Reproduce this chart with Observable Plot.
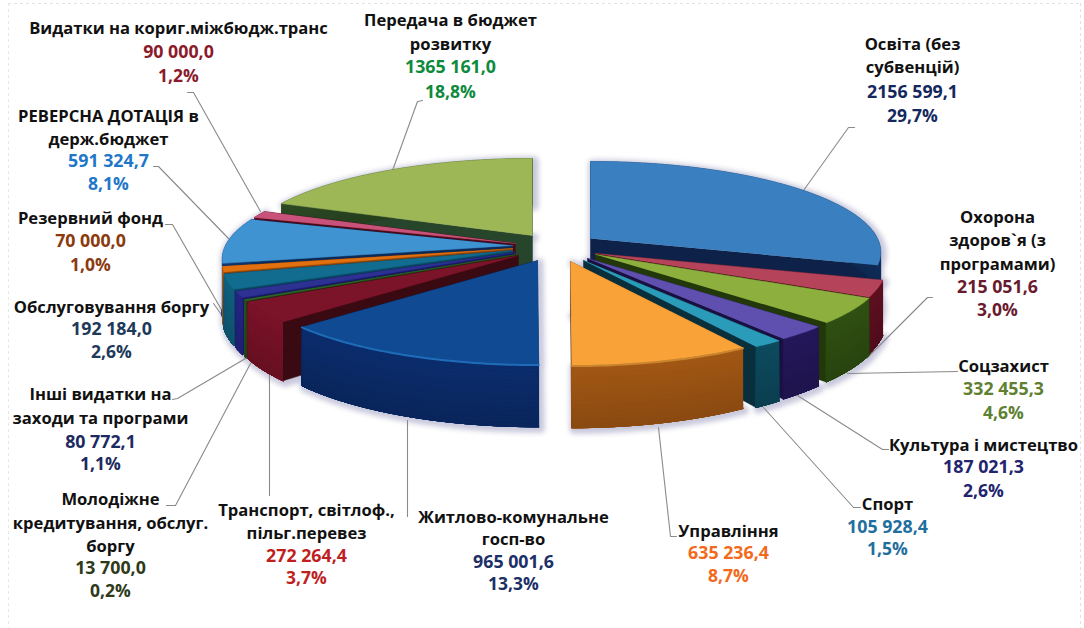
<!DOCTYPE html>
<html lang="uk">
<head>
<meta charset="utf-8">
<script src="https://cdn.jsdelivr.net/npm/d3@7"></script>
<script src="https://cdn.jsdelivr.net/npm/@observablehq/plot@0.6"></script>
<style>
html,body{margin:0;padding:0;background:#fff;overflow:hidden}
svg{display:block}
.shadow{filter:blur(2.5px)}
</style>
</head>
<body>
<div id="chart"></div>
<script>
// ---- data, in pie order (clockwise from 12 o'clock) ----
const categories = [
  ["Освіта (без","субвенцій)"],
  ["Охорона","здоров`я (з","програмами)"],
  ["Соцзахист"],
  ["Культура і мистецтво"],
  ["Спорт"],
  ["Управління"],
  ["Житлово-комунальне","госп-во"],
  ["Транспорт, світлоф.,","пільг.перевез"],
  ["Молодіжне","кредитування, обслуг.","боргу"],
  ["Інші видатки на","заходи та програми"],
  ["Обслуговування боргу"],
  ["Резервний фонд"],
  ["РЕВЕРСНА ДОТАЦІЯ в","держ.бюджет"],
  ["Видатки на кориг.міжбюдж.транс"],
  ["Передача в бюджет","розвитку"]
];
const values = [2156599.1,215051.6,332455.3,187021.3,105928.4,635236.4,965001.6,272264.4,13700.0,80772.1,192184.0,70000.0,591324.7,90000.0,1365161.0];
const valueLabels = ["2156 599,1","215 051,6","332 455,3","187 021,3","105 928,4","635 236,4","965 001,6","272 264,4","13 700,0","80 772,1","192 184,0","70 000,0","591 324,7","90 000,0","1365 161,0"];
const percentLabels = ["29,7%","3,0%","4,6%","2,6%","1,5%","8,7%","13,3%","3,7%","0,2%","1,1%","2,6%","1,0%","8,1%","1,2%","18,8%"];

// ---- styles ----
const topColors   = ["#3A80C0","#B5445A","#8DAF3E","#5F50B0","#2A9CBA","#F9A238","#0F4A92","#7B1329","#2F6A25","#2C3192","#116C90","#E2700F","#3E93D0","#C9527A","#9DB757"];
const wallColors  = ["#11305F","#5E0F20","#2F5012","#24175A","#0D4A5E","#A25714","#0B2C6C","#7A1228","#24541C","#232584","#105F7E","#B85A0E","#113A78","#5B0E22","#2C4A24"];
const sideColors  = ["#0E2148","#4A0A18","#22380B","#1A103F","#092F3C","#6E3A0B","#092459","#3A0A12","#1C3F14","#181A66","#0B4760","#8A440A","#0C2A58","#4A0A18","#27452A"];
const textColors  = ["#14285E","#6A1A2E","#5E8030","#22246E","#1F6F9E","#F26A1B","#1C2F66","#C01F1F","#2E3A1A","#1D2A5F","#1E3A5A","#8B3A0E","#1F77C9","#8B1A2B","#0E8A3C"];
const rimColors   = {5:"#C9852F", 6:"#1F6CB8"};

// ---- layout: where each exploded wedge's apex sits and where each label goes ----
const apexes = [[590,238],[595,253],[595,254],[587,258],[583,260],[570,261],[537,260],[518,255],[516,254],[514,252],[512,250],[512,248],[512,245],[515,243],[532,235]];
const labelX = [912,997,1003,983,887,728,513,306,110,100,111,90,108,178,450];
const labelY = [
  [44,67,92,116],[217,240,264,287,310],[366,389,413],[445,467,491],[504,527,549],[531,553,576],
  [517,539,562,584],[510,533,556,578],[499,523,546,568,591],[394,418,442,464],[307,329,352],
  [218,241,265],[116,139,161,184],[28,52,76],[20,44,67,92]
];
const leaders = [
  [[803,190],[848,127],[854,127]],
  [[866,358],[927,297],[932,297]],
  [[847,373],[957,371]],
  [[797,395],[882,449],[888,449]],
  [[763,407],[853,507],[860,507]],
  [[658,427],[670,536],[676,536]],
  [[407,420],[407,516]],
  [[269,373],[269,495]],
  [[250,363],[175,505],[166,505]],
  [[245,358],[177,398],[172,399]],
  [[230,327],[213,303]],
  [[226,318],[172,224],[165,224]],
  [[228,238],[158,166],[153,166]],
  [[260,211],[193,92],[187,92]],
  [[392,170],[417,101],[422,100]]
];

// ---- projection of a tilted pie with perspective ----
const Rx = 287, Ry = 88.5, persp = 0.149, depth = 53;
const total = d3.sum(values);
function project(deg, r, apex, h = 0) {
  const t = deg * Math.PI / 180, X = r * Math.sin(t), Y = -r * Math.cos(t);
  const s = 1 / (1 - persp * Y);
  return [apex[0] + X * Rx * s, apex[1] + Y * Ry * s + h * s];
}
const angles = d3.cumsum(values, v => v / total * 360);
const slices = values.map((v, i) => ({i, a0: i ? angles[i-1] : 0, a1: angles[i], apex: apexes[i]}));
// Painter's order: back to front within each half of the exploded pie.
const order = [14,13,12,11,10,9,8,7,6, 0,1,2,3,4,5];

const faces = [], shadow = [], rims = [];
let fid = 0;
const addFace = (pts, color, target = faces) => { const id = fid++; for (const [x,y] of pts) target.push({face:id,x,y,color}); };
const arc = (s, h, reverse) => { const n = Math.max(2, Math.ceil(s.a1 - s.a0)); const p = d3.range(n+1).map(k => project(s.a0 + (s.a1-s.a0)*k/n, 1, s.apex, h)); return reverse ? p.reverse() : p; };

for (const idx of order) {
  const s = slices[idx], c = s.apex;
  addFace([[c[0],c[1]], ...arc(s,0), ...arc(s,depth,true), [c[0],c[1]+depth]], "#c8c8dc", shadow);
}
for (const idx of order) {
  const s = slices[idx], c = s.apex, side = sideColors[idx];
  // radial walls
  for (const a of [s.a0, s.a1]) {
    addFace([c, project(a,1,c), project(a,1,c,depth), [c[0],c[1]+depth]], side);
  }
  // outer wall: overlapping shaded bands, each reaching down to the base
  const shade = d3.interpolateRgb(wallColors[idx], d3.color(wallColors[idx]).darker(0.45));
  const bands = 16;
  for (let b = 0; b < bands; ++b) {
    addFace([...arc(s,depth*b/bands), ...arc(s,depth,true)], shade(b/(bands-1)));
  }
  // top
  addFace([c, ...arc(s,0)], topColors[idx]);
  if (rimColors[idx]) addFace(arc(s,0.5), rimColors[idx], rims);
}

const texts = [];
categories.forEach((lines, i) => {
  const ys = labelY[i];
  lines.forEach((t, k) => texts.push({t, x: labelX[i], y: ys[k], color: "#111", size: 16.6}));
  texts.push({t: valueLabels[i], x: labelX[i], y: ys[lines.length], color: textColors[i], size: 17.8});
  texts.push({t: percentLabels[i], x: labelX[i], y: ys[lines.length+1], color: textColors[i], size: 17.5});
});
const leaderRows = leaders.flatMap((pts, i) => pts.map(([x,y]) => ({i,x,y})));
const bySize = d3.groups(texts, d => d.size);

const chart = Plot.plot({
  width: 1084, height: 628, margin: 0,
  x: {domain: [0,1084], axis: null},
  y: {domain: [628,0], axis: null},
  color: {type: "identity"},
  style: {background: "#fff", fontFamily: "'Open Sans', sans-serif"},
  marks: [
    Plot.ruleY([3], {x1:8, x2:1080, stroke:"#e2e2e2", strokeDasharray:"3 3"}),
    Plot.ruleX([8], {y1:3, y2:628, stroke:"#e8e8e8", strokeDasharray:"3 3"}),
    Plot.ruleX([1080], {y1:3, y2:628, stroke:"#e2e2e2", strokeDasharray:"3 3"}),
    Plot.line(shadow, {x:"x", y:"y", z:"face", fill:"color", stroke:"color", strokeWidth:8, curve:"linear", className:"shadow", dx:2, dy:2}),
    Plot.line(leaderRows, {x:"x", y:"y", z:"i", stroke:"#8a8a8a", strokeWidth:1.1, curve:"linear"}),
    Plot.line(faces, {x:"x", y:"y", z:"face", fill:"color", stroke:"color", strokeWidth:0.5, curve:"linear"}),
    Plot.line(rims, {x:"x", y:"y", z:"face", stroke:"color", strokeWidth:2, curve:"linear"}),
    ...bySize.map(([size, rows]) => Plot.text(rows, {x:"x", y:"y", text:"t", fill:"color", textAnchor:"middle", lineAnchor:"middle", fontWeight:700, fontSize:size}))
  ]
});
document.getElementById("chart").append(chart);
</script>
</body>
</html>
